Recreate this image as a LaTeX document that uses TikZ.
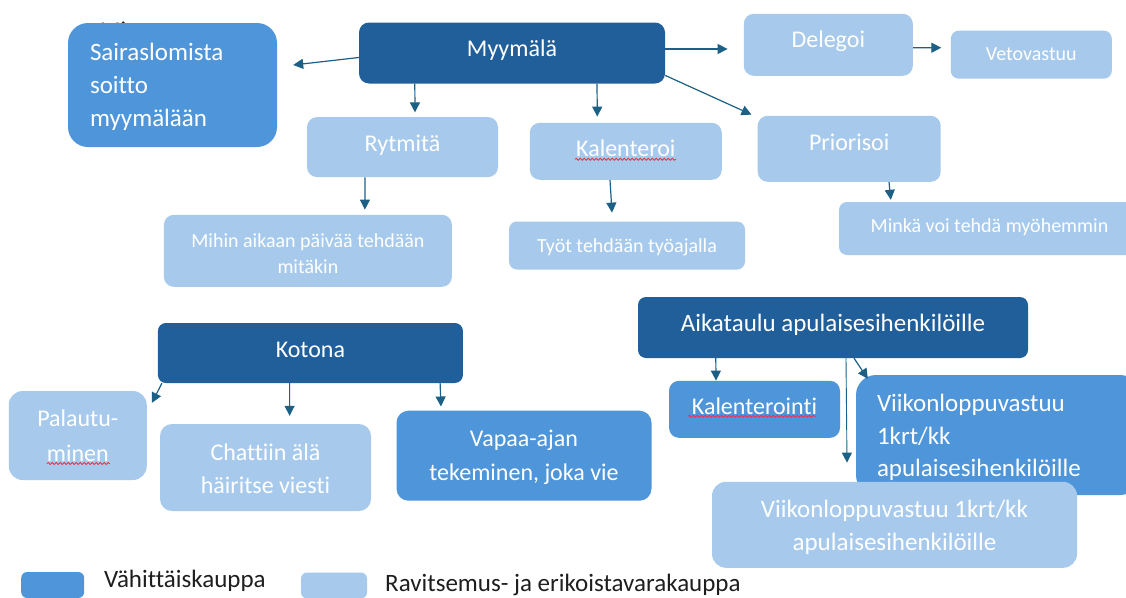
\documentclass[tikz,border=0pt]{standalone}
\usepackage{fontspec}
\setmainfont{Carlito}[Ligatures=NoCommon]
\usetikzlibrary{arrows.meta,calc,decorations.pathmorphing}
\definecolor{cDark}{HTML}{215F9A}
\definecolor{cMid}{HTML}{4F95D9}
\definecolor{cLight}{HTML}{A7CAEC}
\definecolor{cArrow}{HTML}{1D6085}
\definecolor{cSpell}{HTML}{E03A3A}
\definecolor{cInk}{HTML}{1E1E1E}
\newcommand\setfs[2]{\fontsize{#1}{#2}\selectfont}
% fixed line extents so the baselines land where wanted
\newcommand\topstrut[1]{\rule{0pt}{#1pt}}
\newcommand\botstrut[1]{\rule[-#1pt]{0pt}{#1pt}}
\begin{document}
\begin{tikzpicture}[x=1pt,y=-1pt,
  card/.style={rounded corners=10pt, inner sep=0pt, text=white, align=center,
    font=\setfs{24}{33}},
  dark/.style={card, fill=cDark},
  mid/.style={card, fill=cMid},
  light/.style={card, fill=cLight},
  small/.style={font=\setfs{20}{26}},
  tb/.style 2 args={text height=#1pt, text depth=#2pt},
  arr/.style={draw=cArrow, line width=1.2pt, -{Triangle[length=10pt,width=10pt]}},
  spell/.style={draw=cSpell, line width=0.8pt,
    decorate, decoration={snake, amplitude=1pt, segment length=4pt}},
  legendtext/.style={text=cInk, font=\setfs{25}{28}, inner sep=0pt, anchor=base west}]
\useasboundingbox (0,0) rectangle (1126,597);
\clip (0,0) rectangle (1126,597);
\fill[white] (0,0) rectangle (1126,597);

% stray heading tucked behind the first card
\node[anchor=base west, inner sep=0pt, text=cInk, font=\setfs{24}{28}] (stray) at (100,38.5) {Mi};

% ---- top group: Myymälä ----
\node[mid, minimum width=209pt, minimum height=124pt, rounded corners=20pt,
  text width=165pt, inner xsep=22pt, align=left, font=\setfs{25}{33.3}]
  (sair) at (172.5,85) {\topstrut{24.6}Sairaslomista\\soitto\\myymälään\botstrut{8}};
\node[dark, tb={19.4}{12}, minimum width=306pt, minimum height=61pt] (myy) at (512,53) {Myymälä};
\node[light, tb={19.8}{14}, minimum width=169pt, minimum height=62pt] (del) at (828.3,44.8) {Delegoi};
\node[light, small, tb={16.6}{6}, minimum width=161pt, minimum height=48pt, rounded corners=8pt]
  (veto) at (1031.3,54.7) {Vetovastuu};
\node[light, tb={19.2}{10}, minimum width=191pt, minimum height=60pt] (ryt) at (402.5,147.1) {Rytmitä};
\node[light, tb={19.4}{10}, minimum width=192pt, minimum height=57pt] (kal) at (625.8,151.3) {Kalenteroi};
\node[light, tb={19.4}{17}, minimum width=183pt, minimum height=66pt] (pri) at (849.2,148.8) {Priorisoi};
\node[light, small, minimum width=288pt, minimum height=72pt]
  (mih) at (307.9,250.8) {\topstrut{27}Mihin aikaan päivää tehdään\\mitäkin\botstrut{8}};
\node[light, small, tb={19.6}{6}, minimum width=236pt, minimum height=48pt, rounded corners=8pt]
  (tyo) at (627,245.5) {Työt tehdään työajalla};
\node[light, small, tb={17.6}{10}, minimum width=301pt, minimum height=53pt, rounded corners=8pt]
  (mink) at (989.5,228.5) {Minkä voi tehdä myöhemmin};

% ---- lower left group: Kotona ----
\node[dark, tb={19.6}{11}, minimum width=305pt, minimum height=60pt, rounded corners=8pt]
  (koto) at (310.4,353) {Kotona};
\node[light, minimum width=138pt, minimum height=89pt, rounded corners=14pt,
  font=\setfs{24}{35}] (pal) at (77.75,435.5) {\topstrut{25.4}Palautu-\\minen\botstrut{8}};
\node[light, minimum width=211pt, minimum height=87pt, rounded corners=12pt,
  font=\setfs{24}{32.6}] (cha) at (265.5,467.5) {\topstrut{27}Chattiin älä\\häiritse viesti\botstrut{8}};
\node[mid, minimum width=255pt, minimum height=90pt, rounded corners=12pt,
  font=\setfs{24}{33.3}] (vap) at (524,455.7) {\topstrut{23.3}Vapaa-ajan\\tekeminen, joka vie\botstrut{8}};

% ---- lower right group: Aikataulu ----
\node[dark, tb={20.4}{12}, minimum width=390pt, minimum height=61pt, rounded corners=8pt,
  font=\setfs{25}{33}] (aik) at (833,327.5) {Aikataulu apulaisesihenkilöille};
\node[mid, tb={20}{10}, minimum width=171pt, minimum height=57pt] (kaln) at (754.5,409.3) {Kalenterointi};
\node[mid, minimum width=284pt, minimum height=120pt, rounded corners=20pt,
  text width=242pt, inner xsep=21pt, align=left, font=\setfs{25}{32.5}]
  (viiA) at (998,435) {\topstrut{26.4}Viikonloppuvastuu\\1krt/kk\\apulaisesihenkilöille\botstrut{8}};
\node[light, minimum width=365pt, minimum height=86pt, rounded corners=14pt,
  font=\setfs{25}{32.3}] (viiB) at (894.5,524.8)
  {\topstrut{26.1}Viikonloppuvastuu 1krt/kk\\apulaisesihenkilöille\botstrut{8}};

% spelling marks under three words
\draw[spell] ($(kal.center)+(-50.8,8)$) -- ++(101,0);
\draw[spell] ($(pal.center)+(-30.8,28)$) -- ++(63,0);
\draw[spell] ($(kaln.center)+(-66.5,7)$) -- ++(128,0);

% ---- legend ----
\node[fill=cMid, rounded corners=6pt, minimum width=63pt, minimum height=26pt, inner sep=0pt]
  (legA) at (52.7,585) {};
\node[legendtext] (legAt) at (104,587.7) {Vähittäiskauppa};
\node[fill=cLight, rounded corners=6pt, minimum width=66pt, minimum height=26pt, inner sep=0pt]
  (legB) at (334,585.5) {};
\node[legendtext] (legBt) at (385,591.7) {Ravitsemus- ja erikoistavarakauppa};

% ---- connectors ----
\draw[arr] ($(myy.west)+(0,4.5)$) -- ($(sair.east)+(16,-20)$);
\draw[arr] ($(myy.east)+(0,-4)$) -- ($(del.west)+(-16,4.2)$);
\draw[arr] ($(myy.south west)+(56,0)$) -- ($(ryt.north)+(12.5,-4.5)$);
\draw[arr] ($(myy.south)+(85,0)$) -- ($(kal.north)+(-28.5,-6)$);
\draw[arr] ($(myy.south east)+(0,-8.3)$) -- ($(pri.north west)+(-6,-1)$);
\draw[arr] ($(del.east)+(0,3)$) -- ($(veto.west)+(-9.3,-7)$);
\draw[arr] ($(ryt.south)+(-37.5,0)$) -- ($(mih.north)+(57,-5)$);
\draw[arr] ($(kal.south)+(-15.8,0)$) -- ($(tyo.north)+(-15,-8.7)$);
\draw[arr] ($(pri.south)+(39.8,0)$) -- ($(mink.north west)+(52,-2)$);
\draw[arr] ($(koto.south west)+(4.2,0)$) -- ($(pal.north east)+(5,12)$);
\draw[arr] ($(koto.south)+(-20.8,0)$) -- ($(cha.north)+(24.1,-8)$);
\draw[arr] ($(koto.south east)+(-23,0)$) -- ($(vap.north)+(-83,-4)$);
\draw[arr] ($(aik.south west)+(78,0)$) -- ($(kaln.north)+(-38.5,0)$);
\draw[arr, line width=0.9pt] ($(aik.south)+(13,0)$) -- ($(viiB.north)+(-47.5,-19)$);
\draw[arr] ($(aik.south)+(21,0)$) -- ($(viiA.north west)+(12,4)$);
\end{tikzpicture}
\end{document}
